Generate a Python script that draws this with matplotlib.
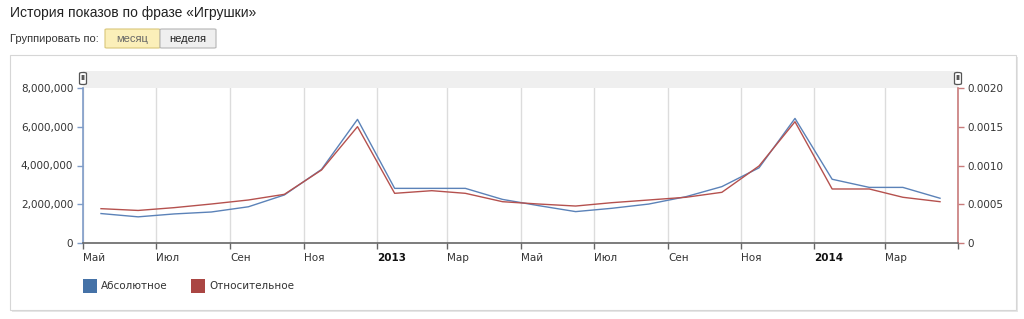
import matplotlib
matplotlib.use("Agg")
import matplotlib.pyplot as plt
import matplotlib.dates as mdates
from matplotlib.patches import Rectangle, FancyBboxPatch
from matplotlib.ticker import FuncFormatter
import matplotlib.transforms as mtransforms
import datetime as dt

# ---- data ----
months = [(2012, m) for m in range(5, 13)] + [(2013, m) for m in range(1, 13)] + [(2014, m) for m in range(1, 5)]
absolute = [1.52e6, 1.35e6, 1.50e6, 1.60e6, 1.87e6, 2.48e6, 3.80e6, 6.38e6,
            2.82e6, 2.82e6, 2.82e6, 2.25e6, 1.93e6, 1.62e6, 1.79e6, 2.01e6,
            2.39e6, 2.91e6, 3.88e6, 6.43e6, 3.29e6, 2.87e6, 2.87e6, 2.31e6]
relative = [0.000443, 0.000420, 0.000456, 0.000503, 0.000555, 0.000628, 0.000942, 0.001501,
            0.000641, 0.000675, 0.000641, 0.000533, 0.000503, 0.000477, 0.000520, 0.000555,
            0.000590, 0.000654, 0.000994, 0.001565, 0.000697, 0.000697, 0.000590, 0.000533]
tick_labels = ["Май", "Июл", "Сен", "Ноя", "2013", "Мар", "Май", "Июл", "Сен", "Ноя", "2014", "Мар", ""]
title = "История показов по фразе «Игрушки»"
group_label = "Группировать по:"
buttons = ["месяц", "неделя"]
legend_labels = ["Абсолютное", "Относительное"]

dates = [dt.date(y, m, 16) for y, m in months]
tick_dates = []
y, m = 2012, 5
for _ in range(13):
    tick_dates.append(dt.date(y, m, 1))
    m += 2
    if m > 12:
        m -= 12
        y += 1

W, H = 1024, 319
fig = plt.figure(figsize=(W / 100, H / 100), dpi=100)
fig.patch.set_facecolor("white")

def fx(px):
    return px / W

def fy(py):
    return 1 - py / H

BLUE = "#4572A7"
RED = "#AA4643"

# header
fig.text(fx(10), fy(13), title, fontsize=10, family="Liberation Sans", color="#222222", va="center", ha="left")
fig.text(fx(10), fy(39), group_label, fontsize=8, family="Liberation Sans", color="#333333", va="center", ha="left")
fig.patches.append(FancyBboxPatch((fx(105), fy(48)), fx(55), 19 / H, boxstyle="round,pad=0,rounding_size=0.002",
                                  transform=fig.transFigure, facecolor="#fbefb9", edgecolor="#d9c77a", lw=0.8))
fig.patches.append(FancyBboxPatch((fx(160), fy(48)), fx(56), 19 / H, boxstyle="round,pad=0,rounding_size=0.002",
                                  transform=fig.transFigure, facecolor="#efefef", edgecolor="#b5b5b5", lw=0.8))
fig.text(fx(132), fy(39), buttons[0], fontsize=8, family="Liberation Sans", color="#666666", va="center", ha="center")
fig.text(fx(188), fy(39), buttons[1], fontsize=8, family="Liberation Sans", color="#222222", va="center", ha="center")

# chart box with shadow
fig.patches.append(Rectangle((fx(12), fy(312)), fx(1006), 255 / H, transform=fig.transFigure,
                             facecolor="#e6e6e6", edgecolor="none", zorder=0))
fig.patches.append(Rectangle((fx(10), fy(310)), fx(1006), 255 / H, transform=fig.transFigure,
                             facecolor="white", edgecolor="#d6d6d6", lw=0.8, zorder=0.5))

# navigator band
fig.patches.append(Rectangle((fx(83), fy(88)), fx(875), 17 / H, transform=fig.transFigure,
                             facecolor="#efefef", edgecolor="none", zorder=1))
for hx in (83, 958):
    fig.patches.append(FancyBboxPatch((fx(hx - 3.5), fy(84.5)), fx(7), 12 / H,
                                      boxstyle="round,pad=0,rounding_size=0.003",
                                      transform=fig.transFigure, facecolor="white", edgecolor="#555555", lw=0.9, zorder=2))
    fig.text(fx(hx), fy(78.5), "II", fontsize=5, ha="center", va="center", color="#444444", weight="bold", zorder=3)

# main axes
ax = fig.add_axes([fx(83), fy(243), fx(875), 155 / H])
ax.set_facecolor("none")
ax2 = ax.twinx()
ax.set_zorder(5)
ax2.set_zorder(6)
ax2.set_facecolor("none")

ax.plot(dates, absolute, color="#5b82b8", lw=1.0, zorder=3)
ax2.plot(dates, relative, color="#b5514e", lw=1.0, zorder=3)

ax.set_xlim(dt.date(2012, 5, 1), dt.date(2014, 5, 1))
ax.set_ylim(0, 8e6)
ax2.set_ylim(0, 0.002)

ax.set_yticks([0, 2e6, 4e6, 6e6, 8e6])
ax.yaxis.set_major_formatter(FuncFormatter(lambda v, p: "0" if v == 0 else f"{int(v):,}"))
ax2.set_yticks([0, 0.0005, 0.001, 0.0015, 0.002])
ax2.yaxis.set_major_formatter(FuncFormatter(lambda v, p: "0" if v == 0 else f"{v:.4f}"))

ax.set_xticks([mdates.date2num(d) for d in tick_dates])
ax.set_xticklabels(tick_labels)
for lbl in ax.get_xticklabels():
    if lbl.get_text() in ("2013", "2014"):
        lbl.set_fontweight("bold")
        lbl.set_color("#111111")
    else:
        lbl.set_color("#333333")
    lbl.set_ha("left")
    lbl.set_transform(lbl.get_transform() + mtransforms.ScaledTranslation(2 / 100, 0, fig.dpi_scale_trans))

ax.grid(axis="x", color="#dcdcdc", lw=1)
ax.set_axisbelow(True)
ax.tick_params(axis="x", length=4, width=1, color="#666666", labelsize=7.5, pad=3, direction="out")
ax.tick_params(axis="y", length=4, width=1, color="#7f9cc8", labelsize=7.5, labelcolor="#333333", pad=3)
ax2.tick_params(axis="y", length=4, width=1, color="#c87b7b", labelsize=7.5, labelcolor="#333333", pad=3)

for a in (ax, ax2):
    for s in a.spines.values():
        s.set_visible(False)
ax2.spines["left"].set_visible(True)
ax2.spines["left"].set_color("#7f9cc8")
ax2.spines["left"].set_linewidth(1.2)
ax2.spines["right"].set_visible(True)
ax2.spines["right"].set_color("#c87b7b")
ax2.spines["right"].set_linewidth(1.2)
ax2.spines["bottom"].set_visible(True)
ax2.spines["bottom"].set_color("#666666")
ax2.spines["bottom"].set_linewidth(1.2)

# legend
for i, (lx, col) in enumerate([(83, BLUE), (191, RED)]):
    fig.patches.append(Rectangle((fx(lx), fy(293)), fx(14), 14 / H, transform=fig.transFigure,
                                 facecolor=col, edgecolor="none", zorder=2))
    fig.text(fx(lx + 18), fy(286), legend_labels[i], fontsize=7.5, color="#333333", va="center", ha="left")

fig.savefig("out.png", dpi=100, facecolor="white")
